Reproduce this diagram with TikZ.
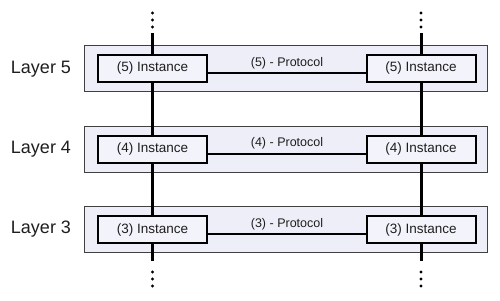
\documentclass[tikz,border=0pt]{standalone}
\usepackage{fontspec}
\setmainfont{Liberation Sans}
\definecolor{bandfill}{RGB}{238,238,248}
\definecolor{boxfill}{RGB}{243,243,252}
\definecolor{txt}{RGB}{30,30,30}

\begin{document}
\begin{tikzpicture}[x=1bp,y=-1bp,
  band/.style={draw=black!75, line width=1bp, fill=bandfill, minimum width=402bp, minimum height=46bp, inner sep=0pt},
  inst/.style={draw=black, line width=2bp, fill=boxfill, minimum width=109bp, minimum height=27bp, inner sep=0pt, text=txt, font=\fontsize{13.5bp}{16bp}\selectfont},
  layerlabel/.style={text=txt, font=\fontsize{18bp}{21bp}\selectfont},
  protolabel/.style={text=txt, font=\fontsize{12.5bp}{15bp}\selectfont},
  link/.style={line width=2bp},
  stack/.style={line width=3bp}]
\useasboundingbox (0,0) rectangle (500,300);
% layer bands
\node[band] (band5) at (286,68.5) {};
\node[band] (band4) at (286,149) {};
\node[band] (band3) at (286,229.5) {};
\node[layerlabel] (layer5) at (41,69) {Layer 5};
\node[layerlabel] (layer4) at (41,149) {Layer 4};
\node[layerlabel] (layer3) at (41,229.5) {Layer 3};
% instances
\node[inst] (left5) at (152.5,68.5) {(5) Instance};
\node[inst] (right5) at (421,68.5) {(5) Instance};
\node[inst] (left4) at (152.5,149) {(4) Instance};
\node[inst] (right4) at (421,149) {(4) Instance};
\node[inst] (left3) at (152.5,229.5) {(3) Instance};
\node[inst] (right3) at (421,229.5) {(3) Instance};
% protocols
\draw[link] ([yshift=-4.5bp]left5.east) -- ([yshift=-4.5bp]right5.west);
\node[protolabel] (proto5) at (287,63) {(5) - Protocol};
\draw[link] ([yshift=-4.5bp]left4.east) -- ([yshift=-4.5bp]right4.west);
\node[protolabel] (proto4) at (287,143.5) {(4) - Protocol};
\draw[link] ([yshift=-4.5bp]left3.east) -- ([yshift=-4.5bp]right3.west);
\node[protolabel] (proto3) at (287,224) {(3) - Protocol};
% stacks
\coordinate (lefttop) at (152.5,33);
\coordinate (leftbot) at (152.5,261);
\coordinate (righttop) at (421,33);
\coordinate (rightbot) at (421,261);
\draw[stack] (lefttop) -- (left5.north);
\draw[stack] (left5.south) -- (left4.north);
\draw[stack] (left4.south) -- (left3.north);
\draw[stack] (left3.south) -- (leftbot);
\draw[stack] (righttop) -- (right5.north);
\draw[stack] (right5.south) -- (right4.north);
\draw[stack] (right4.south) -- (right3.north);
\draw[stack] (right3.south) -- (rightbot);
% dots
\foreach \y in {13,20,27,272,279,286} {
  \fill (152.5,\y) circle (1.7bp);
  \fill (421,\y) circle (1.7bp);
}
\end{tikzpicture}
\end{document}
